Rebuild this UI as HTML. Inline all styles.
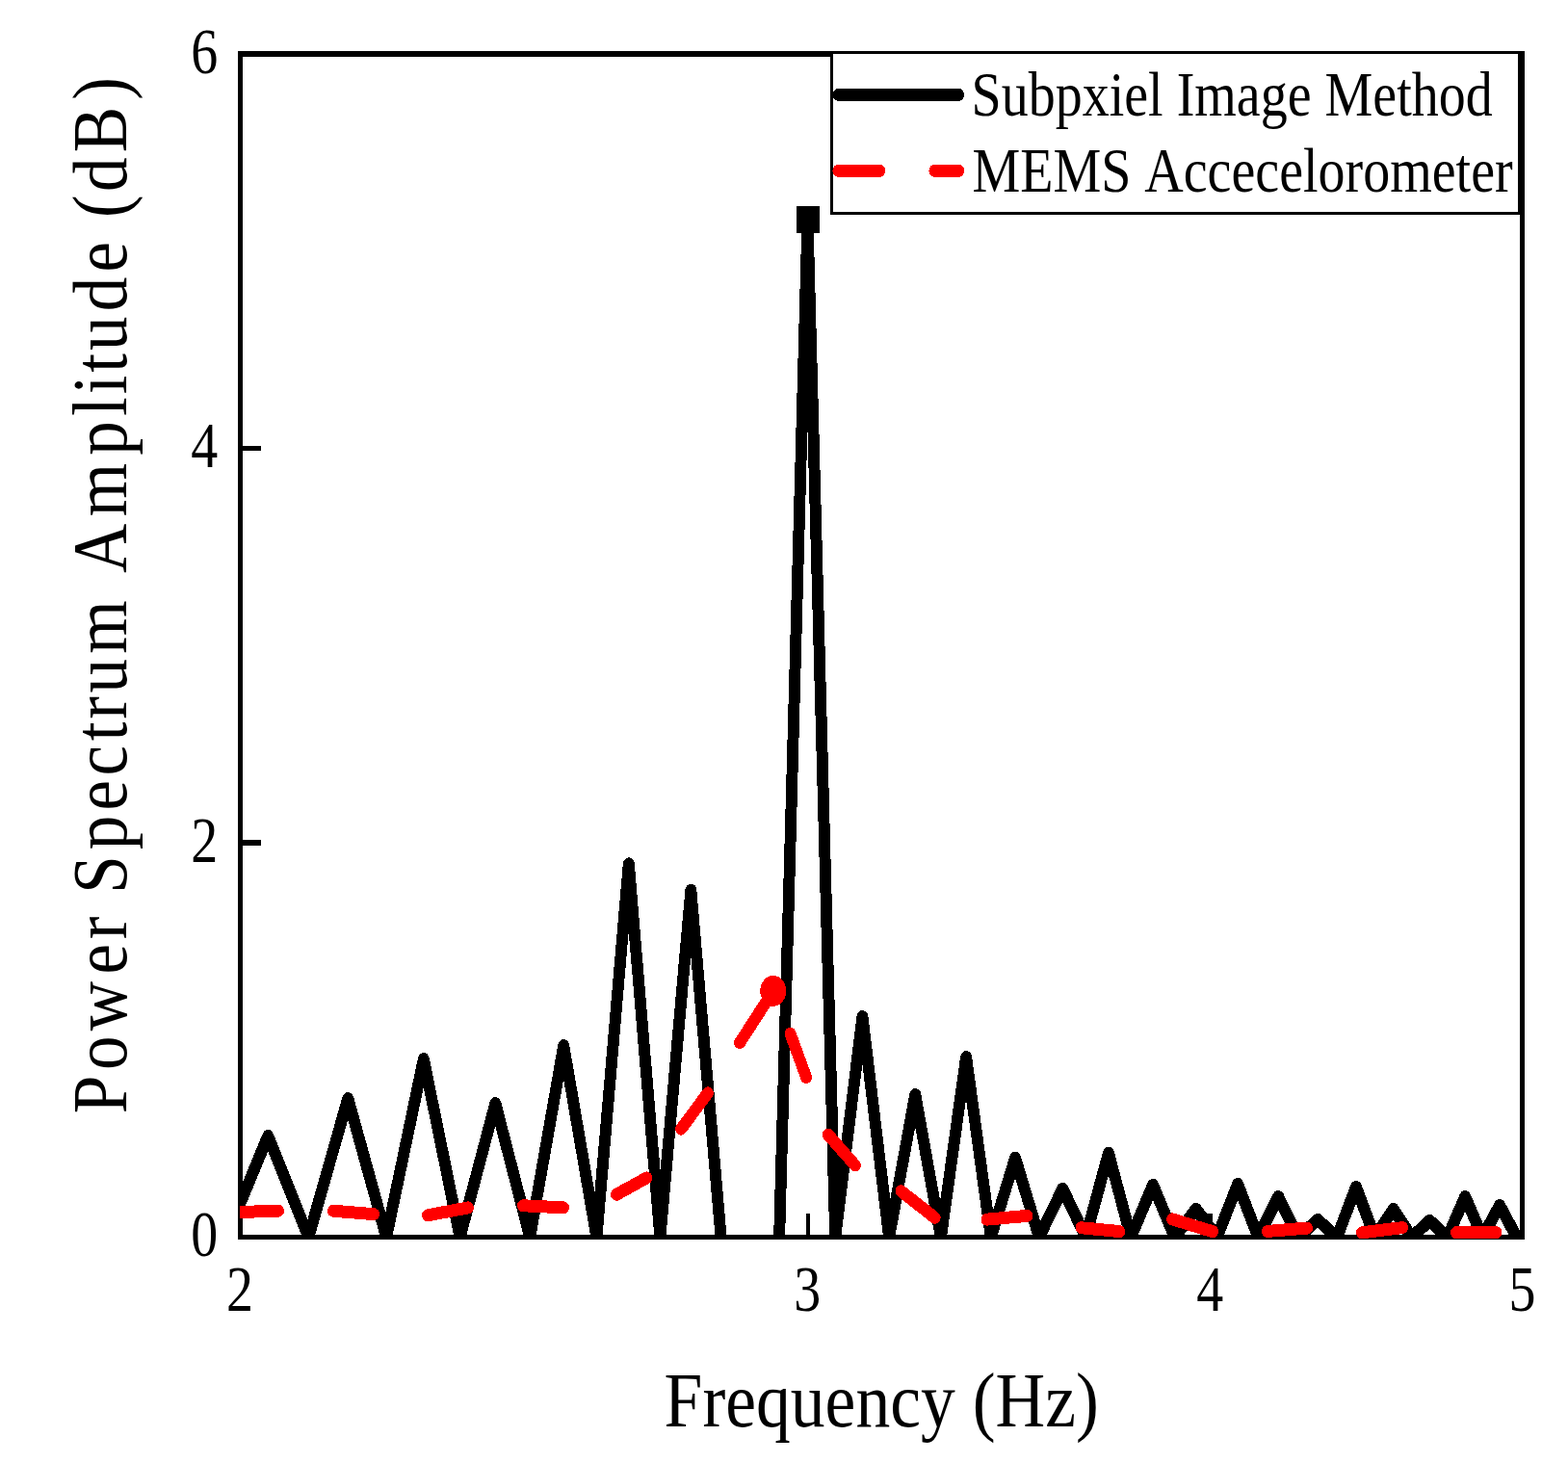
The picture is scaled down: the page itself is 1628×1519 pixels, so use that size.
<!DOCTYPE html>
<html lang="en">
<head>
<meta charset="utf-8">
<title>Power Spectrum Amplitude vs Frequency</title>
<style>
html,body{margin:0;padding:0;background:#fff;}
body{width:1628px;height:1519px;overflow:hidden;}
svg{display:block;}
</style>
</head>
<body>
<svg width="1628" height="1519" viewBox="0 0 1628 1519" font-family="'Liberation Serif', serif" fill="#000" style="font-kerning:none">
<defs><clipPath id="plotclip"><rect x="249" y="53" width="1334" height="1234"/></clipPath></defs>
<rect x="0" y="0" width="1628" height="1519" fill="#fff"/>
<g shape-rendering="crispEdges">
<rect x="247" y="53" width="5" height="1234"/>
<rect x="1578" y="53" width="5" height="1234"/>
<rect x="247" y="53" width="1336" height="6"/>
<rect x="247" y="1282" width="1336" height="5"/>
<rect x="252" y="463" width="19" height="5"/>
<rect x="252" y="872" width="19" height="6"/>
<rect x="837" y="1260" width="4" height="22"/>
<rect x="1253" y="1260" width="6" height="22"/>
</g>
<g clip-path="url(#plotclip)" shape-rendering="crispEdges">
<g transform="scale(0.9200,1)" fill="none" stroke="#000" stroke-width="13.00" stroke-linejoin="round" stroke-linecap="butt">
<polyline points="255.33,1284.50 302.46,1179.50 348.23,1284.50 392.71,1140.50 435.97,1284.50 478.08,1099.60 519.09,1284.50 559.06,1145.50 598.05,1284.50 636.10,1085.70 673.25,1284.50 709.55,896.90 745.03,1284.50 779.74,924.40 813.69,1284.50"/>
<polyline points="879.49,1284.50 911.39,228.00 942.65,1284.50 973.31,1055.60 1003.39,1284.50 1032.90,1136.50 1061.87,1284.50 1090.32,1097.70 1118.27,1284.50 1145.73,1202.30 1172.72,1284.50 1199.26,1234.20 1225.36,1284.50 1251.03,1197.20 1276.29,1284.50 1301.16,1230.30 1325.64,1284.50 1349.74,1255.40 1373.49,1284.50 1396.88,1229.40 1419.93,1284.50 1442.65,1242.50 1465.04,1284.50 1487.13,1266.50 1508.90,1284.50 1530.39,1232.40 1551.58,1284.50 1572.49,1255.40 1593.13,1284.50 1613.51,1267.40 1633.62,1284.50 1653.48,1242.50 1673.09,1284.50 1692.47,1251.50 1711.61,1284.50 1730.52,1282.50"/>
</g>
<rect x="827" y="214" width="24" height="28" shape-rendering="crispEdges"/>
<g transform="scale(0.9200,1)" fill="none" stroke="#f00" stroke-width="13.00" stroke-linecap="round">
<path d="M263.59,1258.61 L314.13,1257.29 M376.09,1257.26 L421.74,1260.64 M482.62,1261.79 L528.25,1253.91 M590.22,1251.78 L635.87,1253.82 M695.72,1240.24 L729.82,1222.96 M768.59,1172.20 L798.80,1134.90 M834.92,1082.62 L872.90,1028.48 M891.88,1073.23 L909.86,1118.47 M934.53,1178.02 L965.03,1209.98 M1016.86,1236.69 L1054.99,1264.31 M1113.59,1266.14 L1159.24,1262.36 M1220.11,1274.75 L1263.37,1278.55 M1322.85,1265.85 L1368.67,1278.75 M1430.44,1278.44 L1475.00,1275.06 M1536.96,1279.76 L1582.60,1274.64 M1643.48,1279.70 L1688.59,1279.70"/>
</g>
<ellipse cx="802.8" cy="1028.9" rx="13.5" ry="15.9" fill="#f00"/>
</g>
<g shape-rendering="crispEdges">
<rect x="863.5" y="54.5" width="713.5" height="167" fill="#fff" stroke="#000" stroke-width="3"/>
<rect x="1578" y="53" width="5" height="172"/>
</g>
<g transform="scale(0.9200,1)" fill="none" stroke-width="13.00" stroke-linecap="round" shape-rendering="crispEdges">
<path d="M946.09,98.4 L1081.74,98.4" stroke="#000"/>
<path d="M946.09,177.3 L992.83,177.3 M1054.78,177.3 L1081.74,177.3" stroke="#f00"/>
</g>
<text transform="translate(212.30,75.50) scale(0.8350,1)" font-size="67.00" text-anchor="middle">6</text>
<text transform="translate(212.30,485.00) scale(0.8350,1)" font-size="67.00" text-anchor="middle">4</text>
<text transform="translate(212.30,895.00) scale(0.8350,1)" font-size="67.00" text-anchor="middle">2</text>
<text transform="translate(212.30,1304.30) scale(0.8350,1)" font-size="67.00" text-anchor="middle">0</text>
<text transform="translate(249.00,1361.00) scale(0.8350,1)" font-size="67.00" text-anchor="middle">2</text>
<text transform="translate(838.20,1361.00) scale(0.8350,1)" font-size="67.00" text-anchor="middle">3</text>
<text transform="translate(1256.20,1361.00) scale(0.8350,1)" font-size="67.00" text-anchor="middle">4</text>
<text transform="translate(1580.60,1361.00) scale(0.8350,1)" font-size="67.00" text-anchor="middle">5</text>
<text transform="translate(1008.60,120.40) scale(0.8550,1)" font-size="65.50" text-anchor="start">Subpxiel Image Method</text>
<text transform="translate(1009.40,199.00) scale(0.8550,1)" font-size="65.50" text-anchor="start">MEMS Accecelorometer</text>
<text transform="translate(915.20,1480.70) scale(0.8840,1)" font-size="81.00" text-anchor="middle">Frequency (Hz)</text>
<text transform="translate(130.9,1156.3) rotate(-90) scale(0.8765,1)" font-size="81.00" x="0.00 51.71 98.20 165.35 206.61 237.58 260.82 312.53 359.02 400.29 441.56 467.39 498.35 544.84 617.17 640.41 707.56 779.88 826.37 852.20 878.03 903.87 950.35 996.84 1038.11 1061.36 1092.32 1138.81 1200.83">Power Spectrum Amplitude (dB)</text>
</svg>
</body>
</html>
